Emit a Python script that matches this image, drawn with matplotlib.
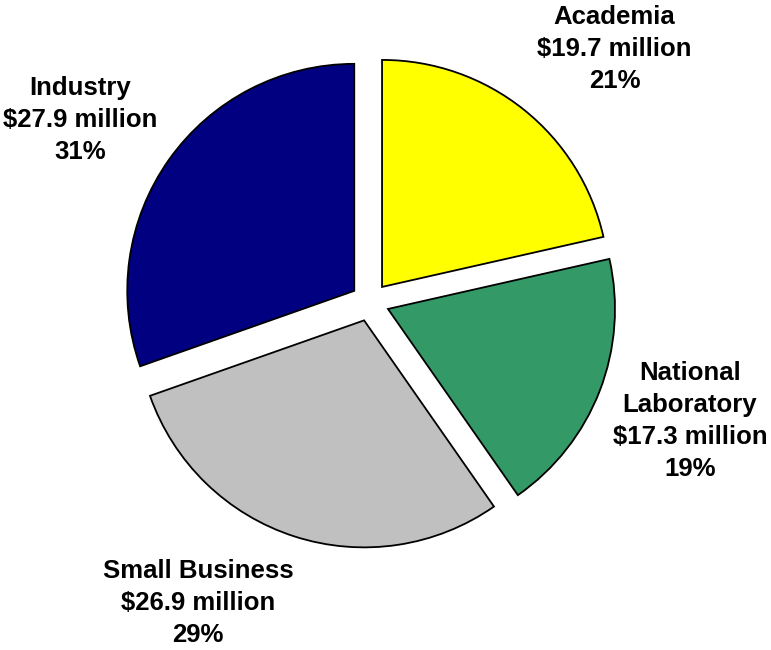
import matplotlib.pyplot as plt

plt.rcParams['font.family'] = ['Liberation Sans', 'DejaVu Sans']

# funding by performer type, clockwise from 12 o'clock
sectors = ['Academia', 'National\nLaboratory', 'Small Business', 'Industry']
funding = [19.7, 17.3, 26.9, 27.9]   # $ million
shares = [21, 19, 29, 31]            # percent as printed
colors = ['#FFFF00', '#339966', '#C0C0C0', '#000080']

# label centres in figure fraction
label_pos = [(0.797, 0.925), (0.895, 0.352), (0.257, 0.072), (0.104, 0.815)]

fig = plt.figure(figsize=(7.71, 6.5), dpi=100)
ax = fig.add_axes([0, 0, 1, 1])

ax.pie(funding, colors=colors, startangle=90, counterclock=False,
       explode=[0.085] * 4,
       wedgeprops=dict(edgecolor='black', linewidth=1.3))

# one data unit = 227 px, pie centre at (370, 302) px from top-left
s = 227.0
ax.set_xlim(-370 / s, (771 - 370) / s)
ax.set_ylim(-(650 - 302) / s, 302 / s)
ax.set_aspect('auto')
ax.axis('off')

for name, val, pct, (x, y) in zip(sectors, funding, shares, label_pos):
    fig.text(x, y, f'{name}\n${val} million\n{pct}%',
             ha='center', va='center', multialignment='center',
             fontsize=18.5, fontweight='bold', linespacing=1.42)

fig.savefig('out.png', dpi=100)
